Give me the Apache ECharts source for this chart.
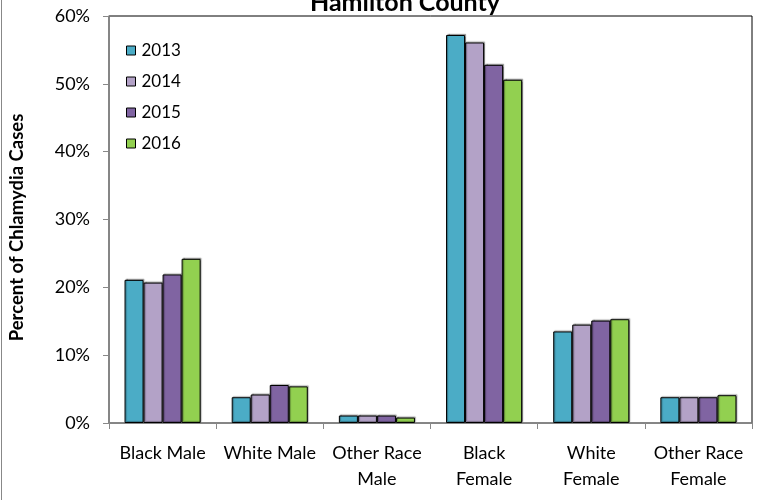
<html>
<head>
    <meta http-equiv="Content-Type" content="text/html; charset=utf-8">
    <script type="text/javascript" src="https://cdn.jsdelivr.net/npm/echarts@6/dist/echarts.min.js"></script>
    <style>
        html, body { margin: 0; padding: 0; background: #fff; }
        #main { width: 770px; height: 500px; }
    </style>
</head>
<body>
<div id="main"></div>
<script type="text/javascript">
    var categories = ['Black Male', 'White Male', 'Other Race\nMale', 'Black\nFemale', 'White\nFemale', 'Other Race\nFemale'];
    var years = ['2013', '2014', '2015', '2016'];
    var v2013 = [21.1, 3.8, 1.1, 57.2, 13.5, 3.8];
    var v2014 = [20.7, 4.2, 1.1, 56.1, 14.5, 3.8];
    var v2015 = [21.9, 5.6, 1.1, 52.8, 15.1, 3.8];
    var v2016 = [24.2, 5.4, 0.8, 50.6, 15.3, 4.1];
    var colors = ['#4BACC6', '#B3A2C7', '#8064A2', '#92D050'];

    var font = "Lato, 'Liberation Sans', sans-serif";
    var values = [v2013, v2014, v2015, v2016];

    var series = [];
    for (var i = 0; i < years.length; i++) {
        series.push({
            name: years[i],
            type: 'bar',
            data: values[i],
            barGap: '0%',
            barCategoryGap: '29%',
            itemStyle: {
                color: colors[i],
                borderColor: '#000',
                borderWidth: 1,
                shadowColor: 'rgba(0,0,0,0.35)',
                shadowOffsetX: 1,
                shadowOffsetY: -1,
                shadowBlur: 1
            }
        });
    }

    var myChart = echarts.init(document.getElementById('main'));
    myChart.setOption({
        animation: false,
        color: colors,
        title: {
            text: 'Hamilton County',
            left: 400,
            textAlign: 'center',
            top: -15,
            textStyle: { fontFamily: font, fontWeight: 'bold', fontSize: 25, color: '#000' }
        },
        legend: {
            orient: 'vertical',
            left: 121,
            top: 37,
            itemWidth: 9,
            itemHeight: 9,
            itemGap: 14,
            icon: 'rect',
            itemStyle: { borderColor: '#000', borderWidth: 1 },
            textStyle: { fontFamily: font, fontSize: 17, color: '#000', padding: [0, 0, 0, 1] },
            data: years
        },
        grid: {
            left: 108,
            right: 18,
            top: 16,
            bottom: 77,
            show: true,
            borderColor: '#000',
            borderWidth: 1
        },
        xAxis: {
            type: 'category',
            data: categories,
            axisLine: { lineStyle: { color: '#888', width: 1.5 } },
            axisTick: { show: true, length: 6, lineStyle: { color: '#888' } },
            axisLabel: { interval: 0, fontFamily: font, fontSize: 18, color: '#000', margin: 17, lineHeight: 26 }
        },
        yAxis: {
            type: 'value',
            min: 0,
            max: 60,
            interval: 10,
            name: 'Percent of Chlamydia Cases',
            nameLocation: 'middle',
            nameGap: 82,
            nameTextStyle: { fontFamily: font, fontWeight: 'bold', fontSize: 18.5, color: '#000', padding: [0, 16, 0, 0] },
            axisLine: { show: true, lineStyle: { color: '#888', width: 1.5 } },
            axisTick: { show: true, length: 6, lineStyle: { color: '#888' } },
            splitLine: { show: false },
            axisLabel: { fontFamily: font, fontSize: 18, color: '#000', margin: 19, formatter: '{value}%' }
        },
        graphic: [{
            type: 'line',
            shape: { x1: 1.5, y1: 0, x2: 1.5, y2: 500 },
            style: { stroke: '#888', lineWidth: 1 }
        }],
        series: series
    });
</script>
</body>
</html>
